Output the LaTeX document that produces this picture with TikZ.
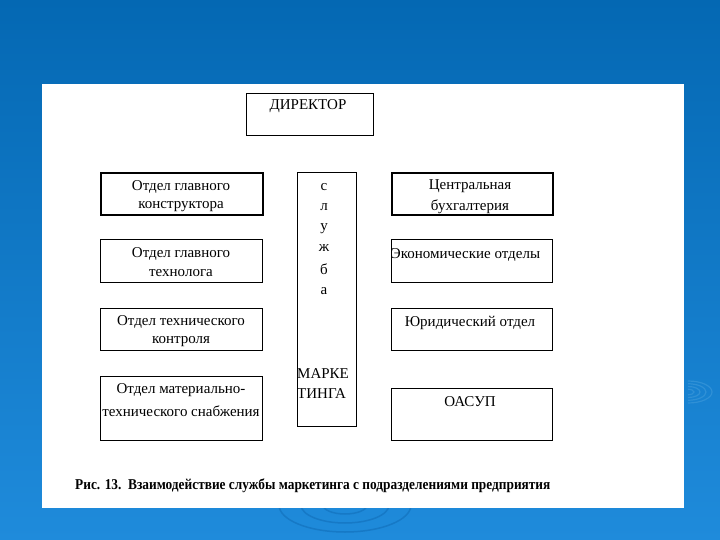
\documentclass[tikz,border=0pt]{standalone}
\usepackage{fontspec}
\setmainfont{Liberation Serif}
\usetikzlibrary{positioning}
\definecolor{bgtop}{HTML}{0468B3}
\definecolor{bgbot}{HTML}{1F8BDB}
\definecolor{ripple}{HTML}{2F90D6}
\definecolor{rippledark}{HTML}{1679C6}
\tikzset{
  box/.style={draw=black, line width=1.3pt, fill=white, rectangle, inner sep=0pt},
  thickbox/.style={box, line width=2pt},
  txt/.style={inner sep=0pt, font=\fontsize{15}{18}\selectfont, text=black, yshift=-1.5pt},
  letter/.style={txt, anchor=center},
  captionstyle/.style={inner sep=0pt, font=\bfseries\fontsize{15}{18}\selectfont, text=black}
}
\begin{document}
\begin{tikzpicture}[x=1pt,y=-1pt]
\useasboundingbox (0,0) rectangle (720,540);
\shade[top color=bgtop, bottom color=bgbot] (0,0) rectangle (720,540);
% faint ripples
\foreach \r in {5,10,15,20}{
  \draw[ripple, line width=1.2pt] (688,392) ++(-90:{\r*0.55}) arc[start angle=-90, end angle=90, x radius={\r*1.2}, y radius={\r*0.55}];
}
\foreach \r in {1,2,3}{
  \draw[rippledark, line width=1.5pt] (345,505) ++(180:{\r*22}) arc[start angle=180, end angle=0, x radius={\r*22}, y radius={\r*9}];
}
% paper
\node[fill=white, inner sep=0pt, minimum width=642pt, minimum height=424pt, anchor=north west] (paper) at (42,84) {};

% director
\node[box, minimum width=127pt, minimum height=42pt, anchor=north west] (dir) at (245.5,93) {};
\node[txt] (dirt) at (308,105) {ДИРЕКТОР};

% left column
\node[thickbox, minimum width=162pt, minimum height=42pt, anchor=north west] (l1) at (100,172) {};
\node[txt] (l1a) at (181,185) {Отдел главного};
\node[txt] (l1b) at (181,205) {конструктора};

\node[box, minimum width=162pt, minimum height=43pt, anchor=north west] (l2) at (100,239) {};
\node[txt] (l2a) at (181,252) {Отдел главного};
\node[txt] (l2b) at (181,272) {технолога};

\node[box, minimum width=162pt, minimum height=42pt, anchor=north west] (l3) at (100,308) {};
\node[txt] (l3a) at (181,320) {Отдел технического};
\node[txt] (l3b) at (181,340) {контроля};

\node[box, minimum width=162pt, minimum height=64pt, anchor=north west] (l4) at (100,376) {};
\node[txt] (l4a) at (181,389) {Отдел материально-};
\node[txt] (l4b) at (181,410) {технического снабжения};

% center column
\node[box, minimum width=59pt, minimum height=254pt, anchor=north west] (c) at (296.5,172) {};
\node[letter] (c1) at (324,186) {с};
\node[letter] (c2) at (324,206) {л};
\node[letter] (c3) at (324,227) {у};
\node[letter] (c4) at (324,247) {ж};
\node[letter] (c5) at (324,268) {б};
\node[letter] (c6) at (324,290) {а};
\node[txt, anchor=west] (c7) at (297,372) {МАРКЕ};
\node[txt, anchor=west] (c8) at (297,392) {ТИНГА};

% right column
\node[thickbox, minimum width=161pt, minimum height=42pt, anchor=north west] (r1) at (390.5,172) {};
\node[txt] (r1a) at (470,185) {Центральная};
\node[txt] (r1b) at (470,205) {бухгалтерия};

\node[box, minimum width=161pt, minimum height=43pt, anchor=north west] (r2) at (390.5,239) {};
\node[txt] (r2a) at (465.5,253) {Экономические отделы};

\node[box, minimum width=161pt, minimum height=42pt, anchor=north west] (r3) at (390.5,308) {};
\node[txt] (r3a) at (470,321) {Юридический отдел};

\node[box, minimum width=161pt, minimum height=52pt, anchor=north west] (r4) at (390.5,387.5) {};
\node[txt] (r4a) at (470,400) {ОАСУП};

% caption
\node[captionstyle, anchor=west] (capt) at (75,486) {\scalebox{0.89}[1]{Рис. 13.\ \ Взаимодействие службы маркетинга с подразделениями предприятия}};
\end{tikzpicture}
\end{document}
